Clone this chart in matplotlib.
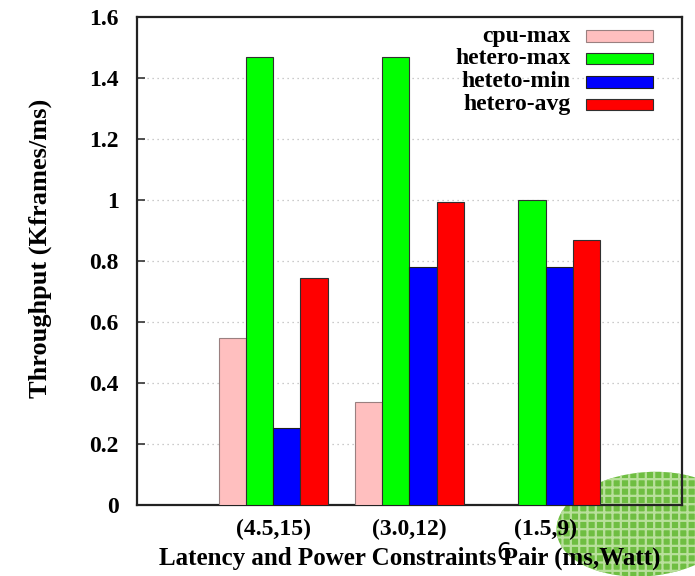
import matplotlib.pyplot as plt
import numpy as np
from matplotlib.patches import Rectangle, Ellipse

# data
groups = ["(4.5,15)", "(3.0,12)", "(1.5,9)"]
series = ["cpu-max", "hetero-max", "heteto-min", "hetero-avg"]
cpu_max = [0.548, 0.338, 0.0]
hetero_max = [1.47, 1.47, 1.0]
heteto_min = [0.252, 0.78, 0.78]
hetero_avg = [0.745, 0.995, 0.87]
values = [cpu_max, hetero_max, heteto_min, hetero_avg]
colors = ["#ffbfbf", "#00ff00", "#0000ff", "#ff0000"]
edges = ["#9a8080", "#303030", "#202020", "#303030"]
yticks = [0, 0.2, 0.4, 0.6, 0.8, 1, 1.2, 1.4, 1.6]

plt.rcParams['font.family'] = ['Liberation Serif', 'DejaVu Serif']
plt.rcParams['font.weight'] = 'bold'
plt.rcParams['hatch.linewidth'] = 1.6

fig = plt.figure(figsize=(6.95, 5.76), dpi=100, facecolor='white')

# background logo blob (slide artifact, bottom right)
logo = Ellipse((0.93, 0.09), 0.26, 0.18, angle=8, transform=fig.transFigure,
               facecolor='#6fbe42', edgecolor='#b9e09c', hatch='++', lw=0, zorder=0)
fig.add_artist(logo)

ax = fig.add_axes([0.197, 0.1233, 0.7842, 0.8472])
ax.set_facecolor('none')

x = np.arange(1, len(groups) + 1)
width = 0.2
for i, (vals, c, e) in enumerate(zip(values, colors, edges)):
    ax.bar(x + (i - 1.5) * width, vals, width, color=c, edgecolor=e, linewidth=0.8, zorder=3)

ax.set_xlim(0, 4)
ax.set_ylim(0, 1.6)
ax.set_xticks(x)
ax.set_xticklabels(groups, fontsize=17, fontweight='bold')
ax.set_yticks(yticks)
ax.set_yticklabels([f"{t:g}" for t in yticks], fontsize=17, fontweight='bold')
ax.tick_params(axis='x', length=0, pad=10)
ax.tick_params(axis='y', direction='in', length=6, width=1.2, pad=13, color='#333333')

for y in yticks[1:-1]:
    ax.axhline(y, color='#bbbbbb', linestyle=(0, (1, 3)), linewidth=0.9, zorder=1)

for s in ax.spines.values():
    s.set_linewidth(1.6)
    s.set_color('#222222')

ax.set_ylabel("Throughput (Kframes/ms)", fontsize=19, fontweight='bold')
ax.yaxis.set_label_coords(-0.156, 0.525)
ax.set_xlabel("Latency and Power Constraints Pair (ms,Watt)", fontsize=18,
              fontweight='bold', va='center')
ax.xaxis.set_label_coords(0.5, -0.109)

# gnuplot-style key: labels right-aligned, swatches on the right
row_y = [0.961, 0.915, 0.867, 0.820]
for name, c, e, yy in zip(series, colors, edges, row_y):
    ax.text(0.795, yy, name, transform=ax.transAxes, ha='right', va='center',
            fontsize=17, fontweight='bold')
    ax.add_patch(Rectangle((0.824, yy - 0.0115), 0.123, 0.023, transform=ax.transAxes,
                           facecolor=c, edgecolor=e, linewidth=0.8, zorder=4))

# page number peeking through the slide
fig.text(0.725, 0.04, "6", fontsize=17, family='DejaVu Sans', fontweight='normal',
         ha='center', va='center')

fig.savefig("out.png", dpi=100)
